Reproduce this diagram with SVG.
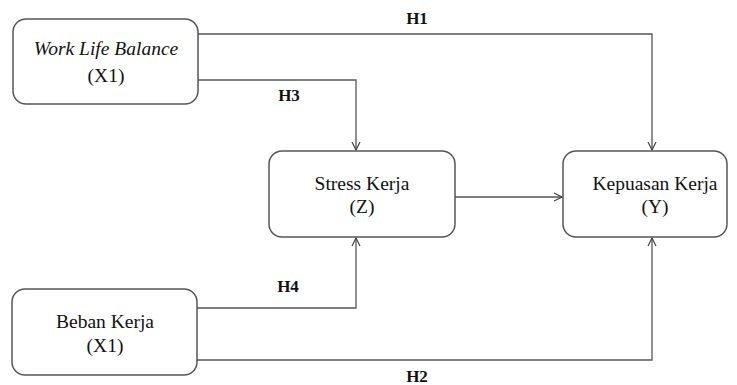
<svg xmlns="http://www.w3.org/2000/svg" width="737" height="385" viewBox="0 0 737 385">
<style>
.box{fill:#fff;stroke:#555;stroke-width:1.5}
.t{font-family:"Liberation Serif","Times New Roman",serif;font-size:19.5px;fill:#111;text-anchor:middle}
.lbl{font-family:"Liberation Serif","Times New Roman",serif;font-size:17px;font-weight:bold;fill:#111;text-anchor:middle}
.c{fill:none;stroke:#555;stroke-width:1.3}
</style>
<defs>
<marker id="ah" markerWidth="10" markerHeight="10" refX="9" refY="5" orient="auto" markerUnits="userSpaceOnUse">
<path d="M1,1 L9,5 L1,9" fill="none" stroke="#444" stroke-width="1.2"/>
</marker>
</defs>
<rect width="737" height="385" fill="#fff"/>
<g id="connectors">
<path class="c" d="M198,34 H652 V150" marker-end="url(#ah)"/>
<path class="c" d="M198,80 H356 V150" marker-end="url(#ah)"/>
<path class="c" d="M455,197 H562" marker-end="url(#ah)"/>
<path class="c" d="M197,308 H356 V238" marker-end="url(#ah)"/>
<path class="c" d="M197,360 H652 V238" marker-end="url(#ah)"/>
<text class="lbl" x="417" y="24">H1</text>
<text class="lbl" x="289" y="101">H3</text>
<text class="lbl" x="288" y="292">H4</text>
<text class="lbl" x="417" y="382">H2</text>
</g>
<g id="wlb">
<rect class="box" x="13" y="19" width="185" height="85" rx="13"/>
<text class="t" x="106" y="55" font-style="italic">Work Life Balance</text>
<text class="t" x="106" y="82">(X1)</text>
</g>
<g id="stress">
<rect class="box" x="269" y="151" width="186" height="86" rx="13"/>
<text class="t" x="362" y="190">Stress Kerja</text>
<text class="t" x="362" y="213">(Z)</text>
</g>
<g id="kepuasan">
<rect class="box" x="563" y="151" width="164" height="86" rx="13"/>
<text class="t" x="655" y="190">Kepuasan Kerja</text>
<text class="t" x="655" y="213">(Y)</text>
</g>
<g id="beban">
<rect class="box" x="12" y="289" width="185" height="86" rx="13"/>
<text class="t" x="105" y="328">Beban Kerja</text>
<text class="t" x="105" y="352">(X1)</text>
</g>
</svg>
